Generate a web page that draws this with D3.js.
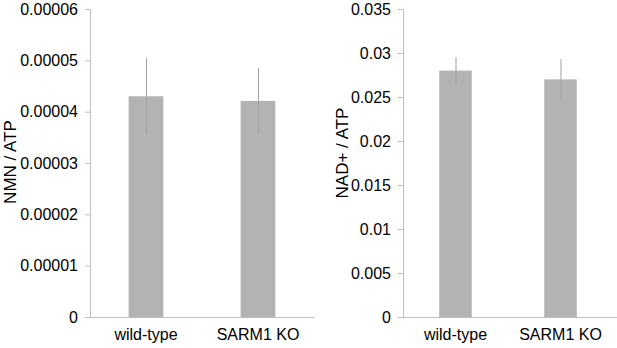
<!DOCTYPE html>
<html><head><meta charset="utf-8">
<script src="https://cdn.jsdelivr.net/npm/d3@7"></script>
<style>body{margin:0;background:#fff}svg{display:block}text{font-family:"Liberation Sans",Arial,sans-serif;fill:#000}</style>
</head><body>
<svg id="c" width="617" height="348"></svg>
<script>
const categories = ["wild-type", "SARM1 KO"];
const nmnValues = [0.0000430, 0.0000421];
const nmnErrors = [0.0000074, 0.0000064];
const nmnTicks = [0, 0.00001, 0.00002, 0.00003, 0.00004, 0.00005, 0.00006];
const nmnTickLabels = ["0", "0.00001", "0.00002", "0.00003", "0.00004", "0.00005", "0.00006"];
const nadValues = [0.0280, 0.0270];
const nadErrors = [0.0015, 0.0023];
const nadTicks = [0, 0.005, 0.01, 0.015, 0.02, 0.025, 0.03, 0.035];
const nadTickLabels = ["0", "0.005", "0.01", "0.015", "0.02", "0.025", "0.03", "0.035"];

const svg = d3.select("#c");
const axisColor = "#bfbfbf", barColor = "#b3b3b3", errColor = "#a0a0a0";

function panel(cfg) {
  const x = d3.scaleBand().domain(categories).range([cfg.x0, cfg.x1]).paddingInner(0.69).paddingOuter(0.345);
  const y = d3.scaleLinear().domain([0, cfg.max]).range([cfg.y0, cfg.y1]);
  const g = svg.append("g");
  const ya = g.append("g").attr("transform", `translate(${cfg.x0},0)`)
    .call(d3.axisLeft(y).tickValues(cfg.ticks).tickFormat((d, i) => cfg.tickLabels[i]).tickSize(5).tickPadding(7));
  ya.select(".domain").attr("stroke", axisColor).attr("d", `M-5,${cfg.y1 + 0.5}H0.5V${cfg.y0 + 0.5}`);
  ya.selectAll(".tick line").attr("stroke", axisColor);
  ya.selectAll(".tick text").attr("font-size", 16).attr("font-family", "Liberation Sans, Arial, sans-serif").attr("fill", "#000");
  g.selectAll("rect.bar").data(categories).join("rect").attr("class", "bar")
    .attr("x", d => x(d)).attr("width", x.bandwidth())
    .attr("y", (d, i) => y(cfg.values[i])).attr("height", (d, i) => y(0) - y(cfg.values[i]))
    .attr("fill", barColor);
  g.selectAll("line.err").data(categories).join("line").attr("class", "err")
    .attr("x1", d => x(d) + x.bandwidth() / 2 + 0.5).attr("x2", d => x(d) + x.bandwidth() / 2 + 0.5)
    .attr("y1", (d, i) => y(cfg.values[i] + cfg.errors[i])).attr("y2", (d, i) => y(cfg.values[i] - cfg.errors[i]))
    .attr("stroke", errColor).attr("stroke-width", 1);
  const xa = g.append("g").attr("transform", `translate(0,${cfg.y0})`)
    .call(d3.axisBottom(x).tickSize(0).tickPadding(12));
  xa.select(".domain").attr("stroke", axisColor).attr("d", `M${cfg.x0},0.5H${cfg.xEnd}`);
  xa.selectAll(".tick text").attr("font-size", 16).attr("font-family", "Liberation Sans, Arial, sans-serif").attr("fill", "#000");
  g.append("text").attr("transform", `translate(${cfg.titleX},${cfg.titleY}) rotate(-90)`)
    .attr("text-anchor", "middle").attr("font-size", 17).text(cfg.title);
}

panel({x0: 90, x1: 314, xEnd: 314, y0: 317, y1: 9, max: 0.00006, values: nmnValues, errors: nmnErrors,
  ticks: nmnTicks, tickLabels: nmnTickLabels, title: "NMN / ATP", titleX: 16, titleY: 162});
panel({x0: 403, x1: 613, xEnd: 617, y0: 317, y1: 9, max: 0.035, values: nadValues, errors: nadErrors,
  ticks: nadTicks, tickLabels: nadTickLabels, title: "NAD+ / ATP", titleX: 348, titleY: 153});
</script>
</body></html>
